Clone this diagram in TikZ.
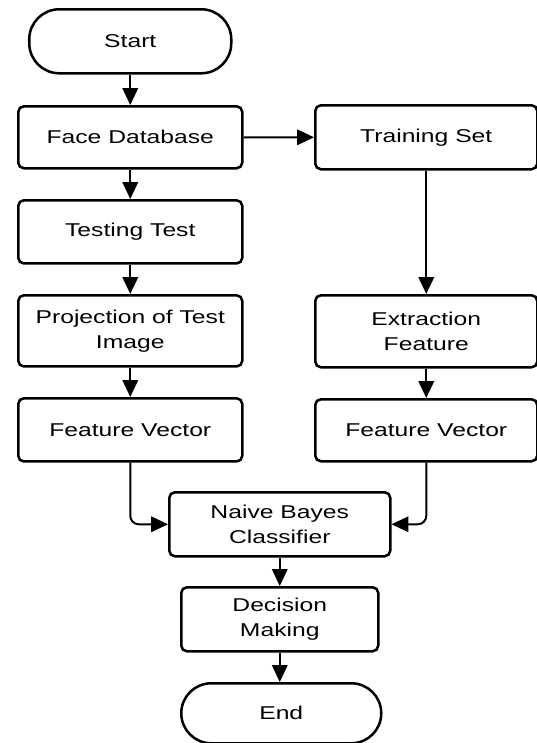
\documentclass[tikz,border=0pt]{standalone}
\usepackage{fontspec}
\setmainfont{Liberation Sans}[FakeStretch=1.33]
\usepackage{tikz}
\usetikzlibrary{shapes,arrows.meta,positioning,calc}
\tikzstyle{a}=[anchor=north west]
\tikzstyle{node}=[a,draw,line width=1.8pt,align=center,fill=white,font=\fontsize{13.2pt}{17.8pt}\selectfont,inner sep=2pt]
\tikzstyle{process}=[node,rectangle,rounded corners=4pt,minimum width=5.6cm,minimum height=1.58cm]
\tikzstyle{terminal}=[node,rectangle,rounded corners=0.75cm,minimum width=5.05cm,minimum height=1.6cm]
\tikzstyle{arrow}=[draw,line width=1.4pt,-{Triangle[length=12pt,width=11pt]}]

\begin{document}
\begin{tikzpicture}
    \useasboundingbox (0,0) rectangle (13.425,-18.575);

    \node[terminal] at (0.7,-0.2) (start) {Start};

    \node[process,minimum height=1.55cm] at (0.425,-2.625) (facedb) {Face Database};
    \node[process] at (0.425,-4.975) (testing) {Testing Test};
    \node[process,minimum height=1.78cm] at (0.425,-7.35) (projection) {Projection of Test\\Image};
    \node[process] at (0.425,-9.925) (featleft) {Feature Vector};

    \node[process,minimum width=5.55cm,minimum height=1.6cm] at (7.85,-2.6) (training) {Training Set};
    \node[process,minimum width=5.55cm,minimum height=1.8cm] at (7.85,-7.35) (extraction) {Extraction\\Feature};
    \node[process,minimum width=5.55cm,minimum height=1.55cm] at (7.85,-9.95) (featright) {Feature Vector};

    \node[process,minimum width=5.525cm,minimum height=1.6cm] at (4.2,-12.275) (naive) {Naive Bayes\\Classifier};
    \node[process,minimum width=4.925cm,minimum height=1.6cm] at (4.5,-14.65) (decision) {Decision\\Making};

    \node[terminal,minimum width=5cm,minimum height=1.5cm] at (4.5,-17.05) (end) {End};

    \draw[arrow] (start) -- (facedb.north-|start);
    \draw[arrow] (facedb) -- (testing);
    \draw[arrow] (testing) -- (projection);
    \draw[arrow] (projection) -- (featleft);
    \draw[arrow] (facedb) -- (training);
    \draw[arrow] (training) -- (extraction);
    \draw[arrow] (extraction) -- (featright);
    \draw[arrow,rounded corners=6pt] (featleft) |- (naive);
    \draw[arrow,rounded corners=6pt] (featright) |- (naive);
    \draw[arrow] (naive) -- (decision.north-|naive);
    \draw[arrow] (decision) -- (end.north-|decision);
\end{tikzpicture}
\end{document}
